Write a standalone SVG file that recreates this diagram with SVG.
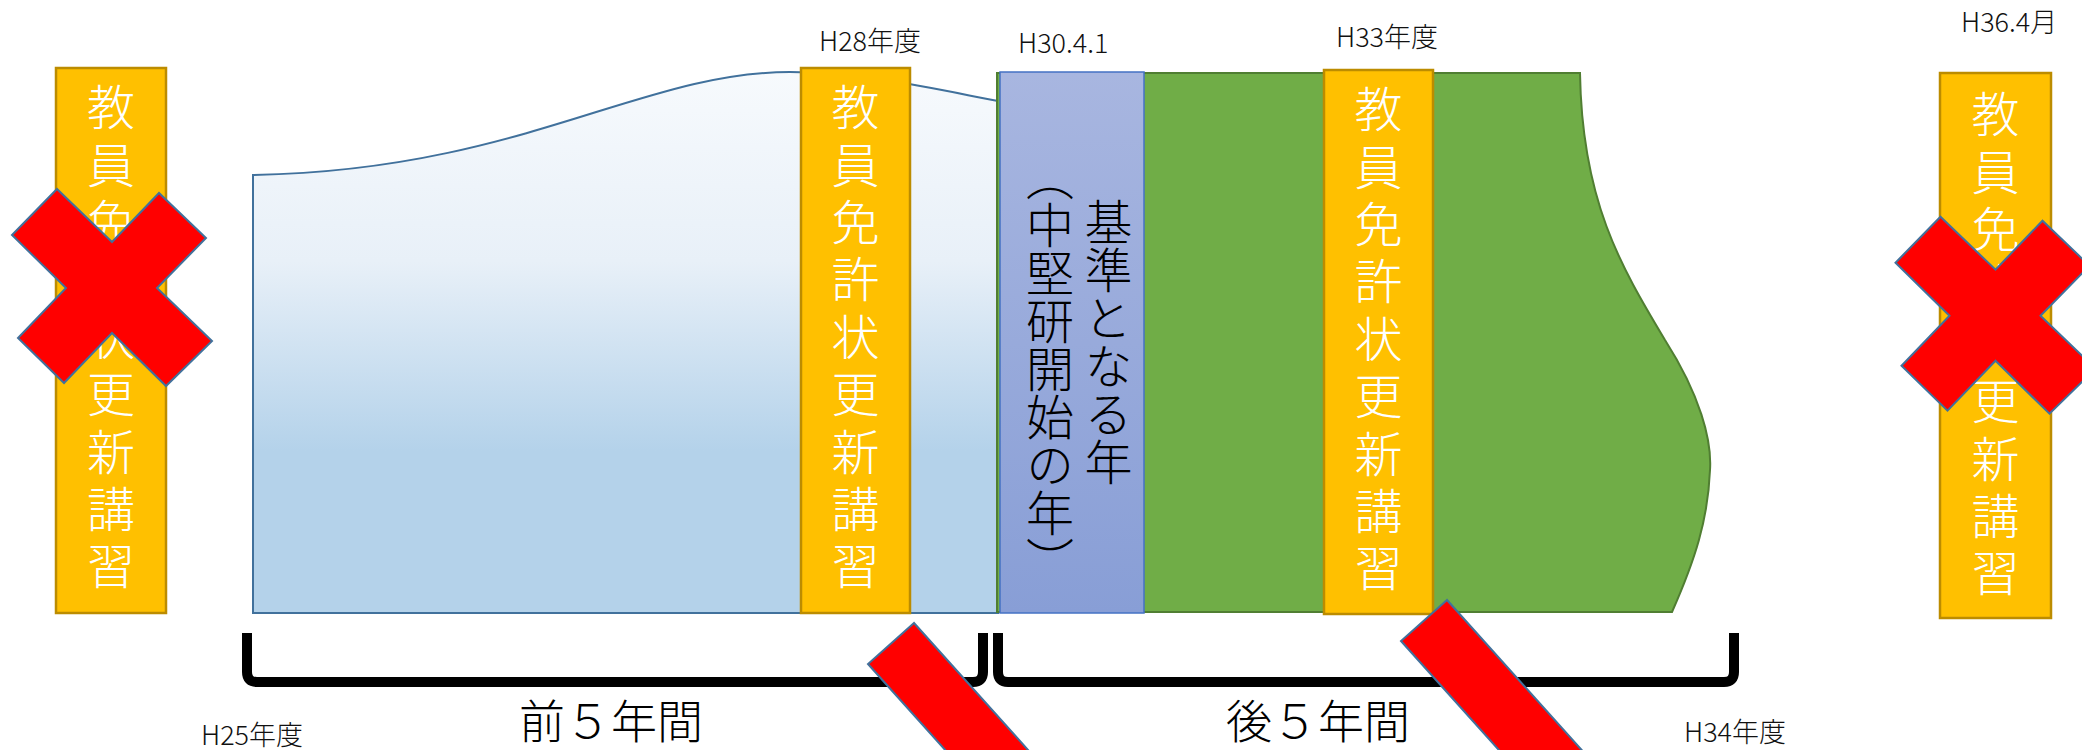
<svg xmlns="http://www.w3.org/2000/svg" width="2082" height="750" viewBox="0 0 2082 750">
<style>
.lbl{font-family:"Noto Sans CJK JP","Noto Sans",sans-serif;font-size:27px;font-weight:300;fill:#111}
.big{font-family:"Noto Sans CJK JP","Noto Sans",sans-serif;font-size:46px;font-weight:300;fill:#000}
.box{fill:#FFC000;stroke:#BC8C00;stroke-width:2.5}
.vt{font-family:"Noto Sans CJK JP",sans-serif;font-size:48px;font-weight:300;writing-mode:vertical-rl;letter-spacing:9.4px;fill:#fff}
.vt2{font-family:"Noto Sans CJK JP",sans-serif;font-size:48px;font-weight:300;writing-mode:vertical-rl;fill:#000}
.cross{fill:#FF0000;stroke:#41719C;stroke-width:2}
.brk{fill:none;stroke:#000;stroke-width:10;stroke-linejoin:round}
</style>
<defs>
<linearGradient id="gBlue" x1="0" y1="0" x2="0" y2="1">
<stop offset="0" stop-color="#F7FAFD"/>
<stop offset="0.35" stop-color="#E8F0F8"/>
<stop offset="0.7" stop-color="#B4D2EA"/>
<stop offset="1" stop-color="#B4D2EA"/>
</linearGradient>
<linearGradient id="gPurple" x1="0" y1="0" x2="0" y2="1">
<stop offset="0" stop-color="#A8B6E0"/>
<stop offset="1" stop-color="#889ED6"/>
</linearGradient>
<path id="xmark" d="M-55,-99 L0,-46 L47,-95 L94,-50 L45,0 L100,53 L54,98 L0,45 L-48,95 L-94,50 L-46,0 L-100,-53 Z"/>
</defs>

<g id="shape-blue">
<path d="M253,175 C520,170 640,72 790,72 C860,72 930,88 998,101 L998,613 L253,613 Z" fill="url(#gBlue)" stroke="#41719C" stroke-width="2"/>
</g>
<g id="shape-green">
<path d="M997,73 L1580,73 C1582,200 1620,265 1665,340 C1700,395 1712,440 1710,470 C1708,520 1695,560 1672,612 L997,612 Z" fill="#70AD47" stroke="#507E32" stroke-width="2"/>
</g>
<g id="box-kijun">
<rect x="1000" y="72" width="144" height="541" fill="url(#gPurple)" stroke="#4472C4" stroke-width="1.5"/>
<text class="vt2" x="1108.5" y="198">基準となる年</text>
<text class="vt2" x="1050" y="153">（中堅研開始の年）</text>
</g>

<g id="box-koshu-1">
<rect class="box" x="56" y="68" width="110" height="545"/>
<text class="vt" x="111" y="83">教員免許状更新講習</text>
</g>
<g id="box-koshu-2">
<rect class="box" x="801" y="68" width="109" height="545"/>
<text class="vt" x="855.5" y="83">教員免許状更新講習</text>
</g>
<g id="box-koshu-3">
<rect class="box" x="1324" y="70" width="109" height="544"/>
<text class="vt" x="1378.5" y="85">教員免許状更新講習</text>
</g>
<g id="box-koshu-4">
<rect class="box" x="1940" y="73" width="111" height="545"/>
<text class="vt" x="1995.5" y="90">教員免許状更新講習</text>
</g>

<g id="cross-1"><use href="#xmark" class="cross" transform="translate(112,288)"/></g>
<g id="cross-2"><use href="#xmark" class="cross" transform="translate(1995.5,315.7)"/></g>

<g id="connectors">
<path class="brk" d="M247,633 L247,672 Q247,682 257,682 L973,682 Q983,682 983,672 L983,633"/>
<path class="brk" d="M998,633 L998,672 Q998,682 1008,682 L1724,682 Q1734,682 1734,672 L1734,633"/>
</g>

<g id="slash-1"><polygon class="cross" points="914,623 868,664 1035,850 1081,809"/></g>
<g id="slash-2"><polygon class="cross" points="1447,600 1401,641 1568,827 1614,786"/></g>

<g id="labels">
<text class="lbl" x="819" y="51">H28年度</text>
<text class="lbl" x="1018" y="53">H30.4.1</text>
<text class="lbl" x="1336" y="47">H33年度</text>
<text class="lbl" x="1961" y="32">H36.4月</text>
<text class="lbl" x="201" y="745">H25年度</text>
<text class="lbl" x="1684" y="742">H34年度</text>
<text class="big" x="519" y="738">前５年間</text>
<text class="big" x="1226" y="738">後５年間</text>
</g>
</svg>
